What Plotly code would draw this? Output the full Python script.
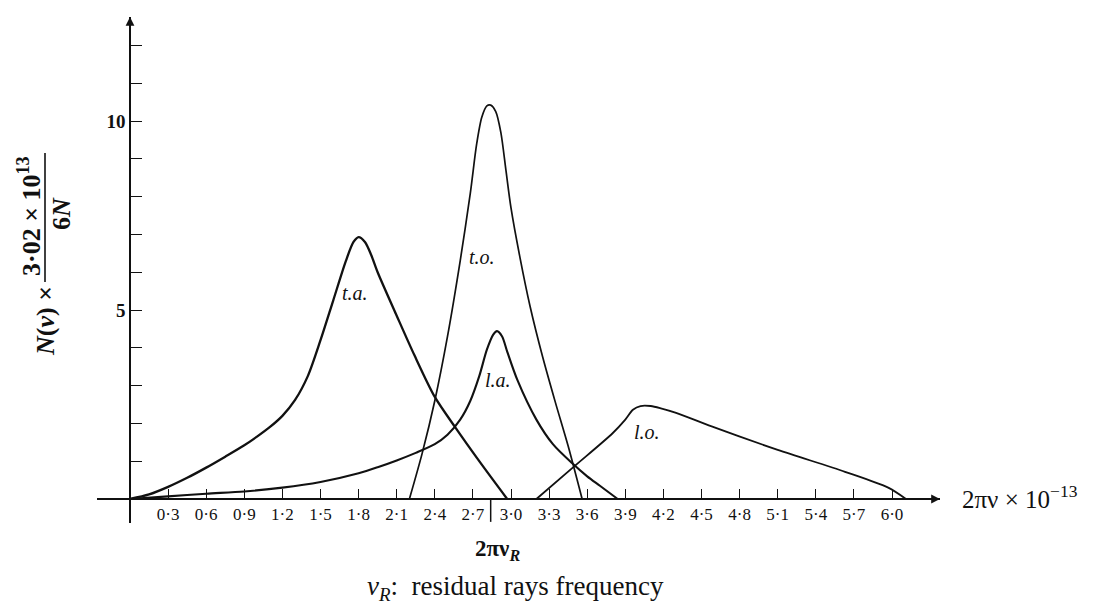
import plotly.graph_objects as go

# ---------------- data ----------------
x_tick_vals = [0.3, 0.6, 0.9, 1.2, 1.5, 1.8, 2.1, 2.4, 2.7, 3.0,
               3.3, 3.6, 3.9, 4.2, 4.5, 4.8, 5.1, 5.4, 5.7, 6.0]
x_tick_text = ["0·3", "0·6", "0·9", "1·2", "1·5", "1·8", "2·1", "2·4", "2·7", "3·0",
               "3·3", "3·6", "3·9", "4·2", "4·5", "4·8", "5·1", "5·4", "5·7", "6·0"]
y_tick_vals = [1, 2, 3, 4, 5, 6, 7, 8, 9, 10, 11, 12]
y_tick_text = ["", "", "", "", "<b>5</b>", "", "", "", "", "<b>10</b>", "", ""]

# transverse acoustic
ta_x = [0, 0.15, 0.3, 0.45, 0.6, 0.75, 0.9, 1.0, 1.1, 1.2, 1.3, 1.4, 1.5, 1.6, 1.7, 1.76, 1.80,
        1.85, 1.90, 1.95, 2.10, 2.24, 2.40, 2.56, 2.75, 2.97]
ta_y = [0, 0.12, 0.32, 0.56, 0.83, 1.12, 1.42, 1.65, 1.9, 2.2, 2.62, 3.25, 4.2, 5.25, 6.3, 6.8, 6.93,
        6.8, 6.45, 6.0, 4.85, 3.8, 2.7, 1.9, 1.0, 0]
# transverse optical
to_x = [2.20, 2.30, 2.40, 2.50, 2.60, 2.68, 2.73, 2.77, 2.81, 2.84, 2.88, 2.92, 2.96, 3.00, 3.07, 3.15, 3.25, 3.35, 3.45, 3.56]
to_y = [0, 1.2, 2.6, 4.3, 6.3, 8.1, 9.4, 10.1, 10.4, 10.42, 10.25, 9.7, 8.7, 7.7, 6.4, 5.1, 3.75, 2.55, 1.4, 0]
# longitudinal acoustic
la_x = [0, 0.3, 0.6, 0.9, 1.2, 1.5, 1.8, 1.95, 2.10, 2.25, 2.40, 2.50, 2.60, 2.68, 2.75, 2.81, 2.86, 2.89, 2.93, 2.97, 3.05, 3.20, 3.33, 3.48, 3.60, 3.70, 3.84]
la_y = [0, 0.07, 0.14, 0.2, 0.3, 0.45, 0.68, 0.84, 1.02, 1.22, 1.45, 1.7, 2.1, 2.6, 3.25, 3.95, 4.35, 4.44, 4.3, 3.9, 3.15, 2.1, 1.45, 0.95, 0.6, 0.35, 0]
# longitudinal optical
lo_x = [3.20, 3.50, 3.80, 3.90, 3.96, 4.02, 4.10, 4.18, 4.30, 4.58, 5.10, 5.63, 5.97, 6.11]
lo_y = [0, 0.87, 1.74, 2.1, 2.36, 2.46, 2.46, 2.4, 2.28, 1.92, 1.3, 0.72, 0.3, 0]

nu_R = 2.84          # residual rays frequency marker on the x axis

curve_labels = ["t.a.", "t.o.", "l.a.", "l.o."]
curve_label_x = [1.77, 2.77, 2.90, 4.07]
curve_label_y = [5.45, 6.40, 3.15, 1.77]

# ---------------- layout geometry (pixels) ----------------
W, H = 1101, 606
L, R, T, B = 97, 940, 17, 523          # plot area
X0, Y0 = 130, 499                      # pixel position of the origin
XS, YS = 127.0, 37.8                   # pixels per unit
x_range = [(L - X0) / XS, (R - X0) / XS]
y_range = [(Y0 - B) / YS, (Y0 - T) / YS]


def px(xp):
    return (xp - L) / (R - L)


def py(yp):
    return (B - yp) / (B - T)


FONT = "Liberation Serif"
INK = "#111111"

fig = go.Figure()

for xs_, ys_, w in [(ta_x, ta_y, 2.3), (to_x, to_y, 1.7), (la_x, la_y, 2.1), (lo_x, lo_y, 1.8)]:
    fig.add_trace(go.Scatter(x=xs_, y=ys_, mode="lines",
                             line=dict(color=INK, width=w, shape="spline", smoothing=0.8),
                             hoverinfo="skip", showlegend=False, cliponaxis=False))

fig.add_trace(go.Scatter(x=[nu_R, nu_R], y=[0, y_range[0] + 0.03], mode="lines",
                         line=dict(color=INK, width=1.5), hoverinfo="skip",
                         showlegend=False, cliponaxis=False))

annotations = []
for t, xx, yy in zip(curve_labels, curve_label_x, curve_label_y):
    annotations.append(dict(x=xx, y=yy, xref="x", yref="y", text=f"<i>{t}</i>",
                            showarrow=False, font=dict(family=FONT, size=20, color=INK)))

# arrow heads on the axes
annotations.append(dict(x=x_range[1], y=0, xref="x", yref="y", ax=-30, ay=0, text="",
                        showarrow=True, arrowhead=2, arrowsize=1.1, arrowwidth=1.6, arrowcolor=INK))
annotations.append(dict(x=0, y=y_range[1], xref="x", yref="y", ax=0, ay=30, text="",
                        showarrow=True, arrowhead=2, arrowsize=1.1, arrowwidth=1.6, arrowcolor=INK))

# axis titles
annotations.append(dict(x=px(960), y=py(497), xref="paper", yref="paper", xanchor="left", yanchor="middle",
                        text="2πν × 10<sup>−13</sup>", showarrow=False,
                        font=dict(family=FONT, size=25, color=INK)))
annotations.append(dict(x=(nu_R * XS + X0 - L) / (R - L) + 0.008, y=py(550), xref="paper", yref="paper",
                        xanchor="center", yanchor="middle",
                        text="<b>2πν<sub><i>R</i></sub></b>", showarrow=False,
                        font=dict(family=FONT, size=23, color=INK)))
annotations.append(dict(x=px(515), y=py(588), xref="paper", yref="paper", xanchor="center", yanchor="middle",
                        text="<i>ν<sub>R</sub></i>:  residual rays frequency", showarrow=False,
                        font=dict(family=FONT, size=27, color=INK)))

# rotated y title:  N(ν) × (3·02 × 10^13) / (6N)
annotations.append(dict(x=px(45), y=py(321), xref="paper", yref="paper", xanchor="center", yanchor="middle",
                        textangle=-90, text="<b><i>N</i>(<i>ν</i>) ×</b>", showarrow=False,
                        font=dict(family=FONT, size=26, color=INK)))
annotations.append(dict(x=px(30), y=py(216), xref="paper", yref="paper", xanchor="center", yanchor="middle",
                        textangle=-90, text="<b>3·02 × 10<sup>13</sup></b>", showarrow=False,
                        font=dict(family=FONT, size=26, color=INK)))
annotations.append(dict(x=px(61), y=py(214), xref="paper", yref="paper", xanchor="center", yanchor="middle",
                        textangle=-90, text="<b>6<i>N</i></b>", showarrow=False,
                        font=dict(family=FONT, size=26, color=INK)))

shapes = [dict(type="line", xref="paper", yref="paper", x0=px(45), x1=px(45), y0=py(153), y1=py(282),
               line=dict(color=INK, width=1.6))]

fig.update_layout(
    width=W, height=H,
    margin=dict(l=L, r=W - R, t=T, b=H - B, pad=0),
    paper_bgcolor="white", plot_bgcolor="white",
    showlegend=False,
    annotations=annotations,
    shapes=shapes,
    xaxis=dict(range=x_range, anchor="free", position=py(Y0), showgrid=False, zeroline=False,
               showline=True, linecolor=INK, linewidth=1.6,
               ticks="inside", ticklen=9, tickwidth=1.2, tickcolor=INK,
               tickmode="array", tickvals=x_tick_vals, ticktext=x_tick_text,
               tickfont=dict(family=FONT, size=17, color=INK), fixedrange=True),
    yaxis=dict(range=y_range, anchor="free", position=px(X0), showgrid=False, zeroline=False,
               showline=True, linecolor=INK, linewidth=1.6,
               ticks="inside", ticklen=11, tickwidth=1.2, tickcolor=INK,
               tickmode="array", tickvals=y_tick_vals, ticktext=y_tick_text,
               tickfont=dict(family=FONT, size=19, color=INK), fixedrange=True),
)

fig.write_html("out.html")
